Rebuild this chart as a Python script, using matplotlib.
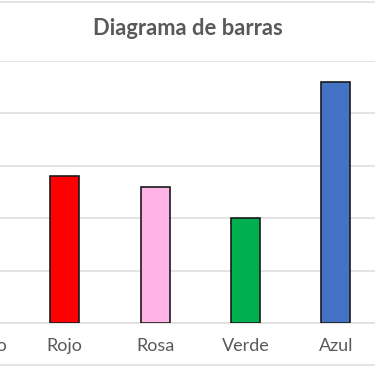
import matplotlib.pyplot as plt
from matplotlib.lines import Line2D

# categories and values (first one is cut off at the left edge)
colores = ["Amarillo", "Rojo", "Rosa", "Verde", "Azul"]
valores = [18, 14, 13, 10, 23]
relleno = ["#FFC000", "#FF0000", "#FFB3E6", "#00B050", "#4472C4"]
ticks_y = [0, 5, 10, 15, 20, 25]

plt.rcParams['font.family'] = ['Lato', 'DejaVu Sans']

fig = plt.figure(figsize=(3.75, 3.66), dpi=100)
# axes is wider than the figure: the picture is a crop of a bigger chart
ax = fig.add_axes([-0.189, 0.1175, 1.2053, 0.7158])

x = list(range(len(colores)))
ax.bar(x, valores, width=0.32, color=relleno, edgecolor="#1a1a1a",
       linewidth=1.2, zorder=3)

ax.set_xlim(-0.5, 4.5)
ax.set_ylim(0, 25)
ax.set_yticks(ticks_y)
ax.set_xticks(x)
ax.set_xticklabels(colores, fontsize=13, color="#595959")
ax.tick_params(axis="x", length=0, pad=10.5)
ax.tick_params(axis="y", length=0, labelleft=False)
ax.grid(axis="y", color="#DDDDDD", linewidth=1.1, zorder=0)
for s in ["top", "left", "right"]:
    ax.spines[s].set_visible(False)
ax.spines["bottom"].set_color("#DDDDDD")
ax.spines["bottom"].set_linewidth(1.1)

fig.text(0.5, 0.922, "Diagrama de barras", ha="center", va="center",
         fontsize=15.8, fontweight="bold", color="#595959")

# chart area border (top and bottom only visible in the crop)
for yy in [0.995, 0.003]:
    fig.add_artist(Line2D([0, 1], [yy, yy], color="#DDDDDD", linewidth=1.1))

fig.savefig("out.png", dpi=100)
